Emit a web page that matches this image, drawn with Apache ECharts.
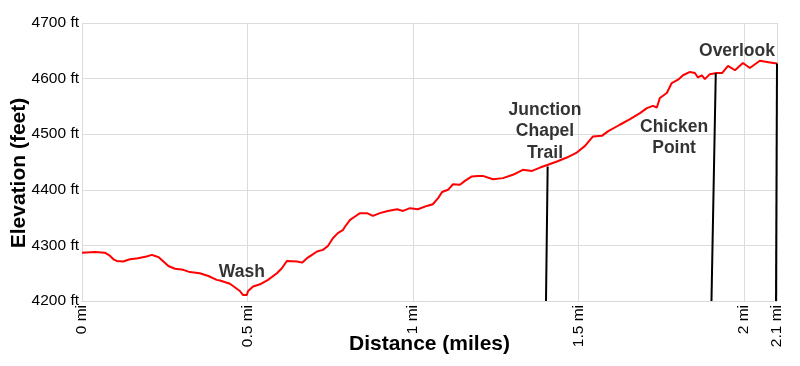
<!DOCTYPE html>
<html>
<head>
<meta charset="utf-8">
<script src="https://cdn.jsdelivr.net/npm/echarts@6/dist/echarts.min.js"></script>
<style>html,body{margin:0;padding:0;background:#fff}#c{width:800px;height:366px}</style>
</head>
<body>
<div id="c"></div>
<script>
var distances = [0.000,0.039,0.069,0.085,0.095,0.105,0.124,0.145,0.169,0.195,0.211,0.221,0.231,0.246,0.261,0.281,0.306,0.326,0.356,0.382,0.407,0.417,0.447,0.477,0.486,0.498,0.502,0.517,0.538,0.562,0.589,0.604,0.619,0.650,0.665,0.680,0.695,0.710,0.728,0.743,0.758,0.773,0.789,0.795,0.810,0.825,0.840,0.861,0.879,0.900,0.924,0.952,0.970,0.991,1.015,1.042,1.060,1.076,1.088,1.106,1.121,1.142,1.157,1.178,1.196,1.211,1.242,1.272,1.302,1.332,1.360,1.384,1.408,1.435,1.465,1.495,1.520,1.544,1.571,1.589,1.595,1.625,1.656,1.686,1.707,1.725,1.737,1.746,1.767,1.782,1.801,1.816,1.837,1.852,1.861,1.873,1.882,1.897,1.918,1.934,1.952,1.973,1.997,2.018,2.048,2.079,2.100];
var elevations = [4287,4288,4287,4281,4275,4272,4271,4275,4277,4280,4283,4281,4279,4271,4263,4258,4256,4252,4250,4245,4238,4237,4231,4218,4211,4211,4218,4226,4230,4238,4250,4259,4272,4271,4269,4277,4283,4289,4292,4299,4313,4322,4328,4334,4346,4352,4358,4358,4353,4358,4362,4365,4362,4367,4365,4371,4374,4385,4396,4400,4410,4409,4416,4424,4425,4425,4419,4421,4427,4436,4434,4440,4445,4451,4458,4467,4479,4496,4497,4505,4506,4517,4527,4538,4547,4551,4548,4565,4574,4592,4598,4606,4612,4610,4602,4606,4599,4608,4610,4610,4623,4615,4628,4619,4632,4629,4627];

// Waypoint markers: [bottom distance, top distance, top elevation]
var markerNames = ['Junction Chapel Trail','Chicken Point','Overlook'];
var markerBottomX = [1.402, 1.902, 2.097];
var markerTopX = [1.407, 1.915, 2.100];
var markerTopY = [4442, 4610, 4627];

// Label texts and their anchor positions (miles, feet)
var labelTexts = ['Wash','Junction\nChapel\nTrail','Chicken\nPoint','Overlook'];
var labelX = [0.483, 1.399, 1.789, 1.979];
var labelY = [4252, 4505, 4494, 4649];

var xTickInterval = 0.5, xMin = 0, xMax = 2.1;
var yMin = 4200, yMax = 4700, yTickInterval = 100;

var lineData = distances.map(function(d,i){return [d, elevations[i]];});
var markLines = markerNames.map(function(n,i){
  return [{coord:[markerBottomX[i], yMin]},{coord:[markerTopX[i], markerTopY[i]]}];
});
var labelData = labelTexts.map(function(t,i){return {name:t, value:[labelX[i], labelY[i]]};});

var chart = echarts.init(document.getElementById('c'), null, {renderer:'canvas'});
var FONT = 'Arial, "Liberation Sans", sans-serif';
chart.setOption({
  animation:false,
  backgroundColor:'#fff',
  grid:{left:82, right:23, top:23, bottom:65, containLabel:false, outerBoundsMode:'none'},
  xAxis:{
    type:'value', min:xMin, max:xMax, interval:xTickInterval,
    name:'Distance (miles)', nameLocation:'middle', nameGap:33, nameMoveOverlap:false,
    nameTextStyle:{fontFamily:FONT, fontWeight:'bold', fontSize:21, color:'#000'},
    axisLine:{show:true, lineStyle:{color:'#d9d9d9', width:1}},
    axisTick:{show:false},
    axisLabel:{rotate:90, margin:4, fontFamily:FONT, fontSize:15.5, color:'#000',
      formatter:function(v){return v+' mi';}},
    splitLine:{show:true, lineStyle:{color:'#dcdcdc', width:1}}
  },
  yAxis:{
    type:'value', min:yMin, max:yMax, interval:yTickInterval,
    name:'Elevation (feet)', nameLocation:'middle', nameGap:52, nameRotate:90, nameMoveOverlap:false,
    nameTextStyle:{fontFamily:FONT, fontWeight:'bold', fontSize:21, color:'#000', padding:[0,22,0,0]},
    axisLine:{show:false},
    axisTick:{show:false},
    axisLabel:{margin:3, fontFamily:FONT, fontSize:15.5, color:'#000',
      formatter:function(v){return v+' ft';}},
    splitLine:{show:true, lineStyle:{color:'#dcdcdc', width:1}}
  },
  series:[
    {
      type:'line', data:lineData, symbol:'none', smooth:false,
      lineStyle:{color:'#ff0000', width:2},
      z:3,
      markLine:{
        silent:true, symbol:['none','none'], animation:false,
        label:{show:false},
        lineStyle:{color:'#000', width:2, type:'solid'},
        data:markLines
      }
    },
    {
      type:'scatter', data:labelData, symbolSize:0, z:5, silent:true,
      label:{show:true, position:'inside', formatter:'{b}', fontFamily:FONT,
        fontWeight:'bold', fontSize:17.5, lineHeight:21.5, color:'#000', align:'center', verticalAlign:'middle'}
    }
  ]
});
</script>
</body>
</html>
